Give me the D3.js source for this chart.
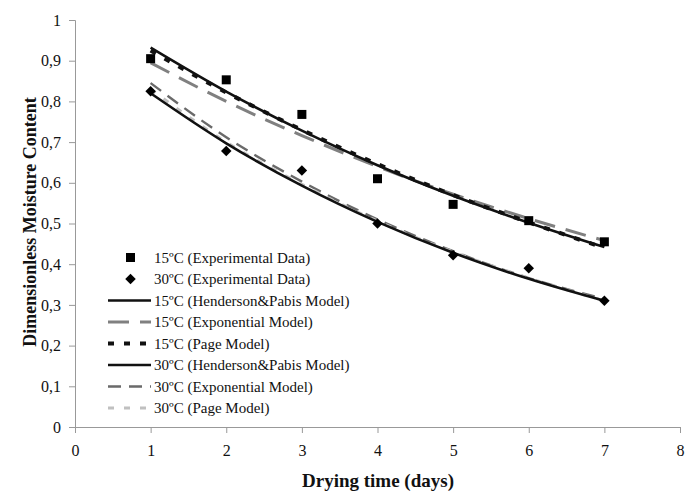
<!DOCTYPE html>
<html><head><meta charset="utf-8">
<script src="https://cdn.jsdelivr.net/npm/d3@7"></script>
<style>body{margin:0;background:#fff}svg{display:block}text{font-family:"Liberation Serif","Times New Roman",serif}</style>
</head><body>
<svg id="c" width="696" height="493"></svg>
<script>
const days = [1,2,3,4,5,6,7];
const exp15 = [0.905,0.853,0.768,0.610,0.547,0.507,0.455];
const exp30 = [0.825,0.678,0.630,0.500,0.422,0.390,0.310];
const hp15  = [0.932,0.824,0.728,0.643,0.568,0.502,0.442];
const ex15  = [0.895,0.800,0.716,0.640,0.572,0.512,0.458];
const pg15  = [0.925,0.822,0.730,0.646,0.570,0.503,0.440];
const hp30  = [0.820,0.697,0.593,0.504,0.428,0.364,0.310];
const ex30  = [0.845,0.712,0.603,0.510,0.432,0.366,0.315];
const pg30  = [0.830,0.700,0.596,0.506,0.430,0.366,0.310];
const xTicks = [0,1,2,3,4,5,6,7,8];
const yTicks = [0,0.1,0.2,0.3,0.4,0.5,0.6,0.7,0.8,0.9,1];
const legendLabels = ["15\u00baC (Experimental Data)","30\u00baC (Experimental Data)","15\u00baC (Henderson&Pabis Model)","15\u00baC (Exponential Model)","15\u00baC (Page Model)","30\u00baC (Henderson&Pabis Model)","30\u00baC (Exponential Model)","30\u00baC (Page Model)"];

const svg = d3.select("#c");
const x = d3.scaleLinear().domain([0,8]).range([75,680]);
const y = d3.scaleLinear().domain([0,1]).range([427,20]);
const fmt = d => d===0||d===1 ? String(d) : d3.format(".1f")(d).replace(".",",");

// axes
const xa = svg.append("g").attr("transform","translate(0,427)")
  .call(d3.axisBottom(x).tickValues(xTicks).tickSize(6).tickPadding(12).tickFormat(d=>d));
const ya = svg.append("g").attr("transform","translate(75,0)")
  .call(d3.axisLeft(y).tickValues(yTicks).tickSize(6).tickPadding(8).tickFormat(fmt));
[xa,ya].forEach(a=>{
  a.selectAll("path,line").attr("stroke","#999").attr("stroke-width",1);
  a.selectAll("text").attr("font-size",16).attr("fill","#111").attr("font-family","Liberation Serif");
});

svg.append("text").attr("x",378).attr("y",487).attr("text-anchor","middle")
  .attr("font-size",19).attr("font-weight","bold").attr("fill","#111").text("Drying time (days)");
svg.append("text").attr("transform","translate(30,222) rotate(-90)").attr("text-anchor","middle")
  .attr("dominant-baseline","central")
  .attr("font-size",18).attr("font-weight","bold").attr("fill","#111").text("Dimensionless Moisture Content");

const series = [
  {v:hp15, color:"#111", w:2.6, dash:null},
  {v:ex15, color:"#808080", w:3, dash:"21,11"},
  {v:pg15, color:"#111", w:4, dash:"6,10"},
  {v:hp30, color:"#111", w:2.6, dash:null},
  {v:ex30, color:"#6a6a6a", w:2.4, dash:"13,8"},
  {v:pg30, color:"#c0c0c0", w:3, dash:"6,10"}
];
const line = d3.line().x((d,i)=>x(days[i])).y(d=>y(d)).curve(d3.curveMonotoneX);
const order = [1,4,5,2,0,3];
order.forEach(k=>{
  const s = series[k];
  svg.append("path").attr("d",line(s.v)).attr("fill","none").attr("stroke",s.color)
    .attr("stroke-width",s.w).attr("stroke-dasharray",s.dash);
});

// markers
svg.append("g").selectAll("rect").data(exp15).join("rect")
  .attr("x",(d,i)=>x(days[i])-4.5).attr("y",d=>y(d)-4.5).attr("width",9).attr("height",9).attr("fill","#000");
const diamond = d3.symbol().type(d3.symbolDiamond2).size(70);
svg.append("g").selectAll("path").data(exp30).join("path")
  .attr("d",diamond).attr("transform",(d,i)=>`translate(${x(days[i])},${y(d)})`).attr("fill","#000");

// legend
const ly0 = 257.5, ldy = 21.5;
const lg = svg.append("g");
legendLabels.forEach((t,i)=>{
  const yy = ly0 + i*ldy;
  if(i===0) lg.append("rect").attr("x",126).attr("y",yy-4.5).attr("width",9).attr("height",9).attr("fill","#000");
  else if(i===1) lg.append("path").attr("d",diamond).attr("transform",`translate(130.5,${yy})`).attr("fill","#000");
  else {
    const s = series[i-2];
    lg.append("line").attr("x1",108).attr("x2",151).attr("y1",yy).attr("y2",yy)
      .attr("stroke",s.color).attr("stroke-width",s.w).attr("stroke-dasharray",s.dash);
  }
  lg.append("text").attr("x",154).attr("y",yy).attr("dominant-baseline","central")
    .attr("font-size",15).attr("fill","#111").text(t);
});
</script>
</body></html>
